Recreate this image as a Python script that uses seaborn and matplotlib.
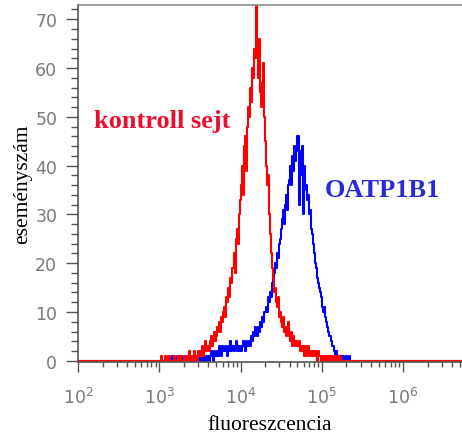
import numpy as np
import pandas as pd
import matplotlib.pyplot as plt
import seaborn as sns
from matplotlib.ticker import MultipleLocator, LogLocator, NullFormatter

# histogram channels: 0.0125 decade wide bins from 10^3 to 10^5.4 (8 per row = 0.1 decade)
bin_start = 3.0
bin_width = 0.0125

kontroll_counts = [
    0, 0, 1, 0, 0, 0, 1, 0,
    0, 1, 0, 0, 0, 0, 1, 0,
    0, 0, 1, 0, 1, 0, 0, 0,
    1, 0, 0, 1, 0, 2, 0, 1,
    0, 1, 2, 0, 1, 0, 2, 1,
    2, 1, 3, 1, 2, 4, 2, 3,
    3, 2, 4, 5, 3, 4, 6, 4,
    5, 7, 6, 8, 6, 9, 8, 10,
    11, 9, 13, 12, 15, 13, 17, 16,
    19, 22, 18, 25, 27, 24, 30, 33,
    36, 40, 34, 44, 46, 39, 48, 52,
    50, 56, 53, 60, 58, 64, 62, 74,
    63, 58, 66, 55, 52, 57, 61, 50,
    45, 40, 36, 38, 30, 26, 22, 19,
    17, 14, 15, 12, 11, 13, 9, 10,
    8, 7, 9, 6, 7, 5, 6, 8,
    5, 4, 6, 3, 5, 4, 3, 4,
    3, 4, 2, 3, 2, 3, 1, 3,
    2, 1, 3, 2, 1, 2, 1, 2,
    1, 2, 1, 0, 2, 1, 1, 0,
    1, 0, 1, 1, 0, 1, 0, 1,
    0, 1, 0, 0, 1, 0, 0, 1,
    0, 0, 1, 0, 0, 0, 0, 0,
    0, 0, 0, 0, 0, 0, 0, 0,
]

oatp_counts = [
    0, 0, 0, 0, 0, 0, 0, 0,
    0, 0, 0, 0, 1, 0, 0, 0,
    0, 1, 0, 0, 0, 1, 0, 0,
    0, 0, 1, 0, 0, 0, 1, 0,
    0, 1, 0, 0, 1, 0, 0, 1,
    0, 1, 0, 1, 0, 0, 1, 0,
    1, 0, 1, 2, 1, 0, 2, 1,
    1, 2, 1, 3, 2, 1, 3, 2,
    2, 3, 2, 1, 3, 2, 4, 2,
    3, 2, 3, 4, 2, 3, 2, 3,
    2, 3, 4, 3, 2, 4, 3, 3,
    4, 3, 5, 4, 6, 5, 7, 6,
    5, 7, 6, 8, 7, 9, 8, 10,
    10, 11, 10, 13, 12, 14, 13, 16,
    17, 18, 20, 19, 22, 21, 24, 25,
    27, 29, 31, 28, 32, 34, 31, 36,
    37, 40, 36, 42, 39, 44, 41, 43,
    46, 32, 43, 38, 44, 30, 40, 35,
    36, 33, 34, 30, 31, 27, 26, 24,
    22, 20, 19, 17, 16, 15, 14, 13,
    11, 10, 11, 9, 8, 7, 6, 5,
    5, 4, 3, 3, 2, 1, 2, 1,
    1, 0, 1, 1, 0, 1, 0, 0,
    1, 0, 0, 1, 0, 0, 0, 0,
]

labels = {"kontroll": "kontroll sejt", "oatp": "OATP1B1"}
x_min, x_max = 1e2, 5.3e6
y_max = 72.9

n = len(kontroll_counts)
centers = 10 ** (bin_start + bin_width * (np.arange(n) + 0.5))
xs = np.concatenate([[x_min], centers, [x_max]])

df = pd.concat([
    pd.DataFrame({"fluor": xs, "count": [0] + oatp_counts + [0], "minta": "oatp"}),
    pd.DataFrame({"fluor": xs, "count": [0] + kontroll_counts + [0], "minta": "kontroll"}),
])

sns.set_style("ticks")
plt.rcParams["font.family"] = ["DejaVu Sans"]
plt.rcParams["mathtext.default"] = "regular"

fig = plt.figure(figsize=(4.62, 4.35), dpi=100)
ax = fig.add_axes([0.169, 0.166, 0.831, 0.820])

sns.lineplot(data=df, x="fluor", y="count", hue="minta",
             hue_order=["oatp", "kontroll"],
             palette={"oatp": "#0000ff", "kontroll": "#ff0000"},
             drawstyle="steps-mid", linewidth=1.5, errorbar=None,
             legend=False, ax=ax)

ax.set_xscale("log")
ax.set_xlim(x_min, x_max)
ax.set_ylim(-0.2, y_max)

ax.yaxis.set_major_locator(MultipleLocator(10))
ax.yaxis.set_minor_locator(MultipleLocator(2))
ax.xaxis.set_major_locator(LogLocator(base=10))
ax.xaxis.set_minor_locator(LogLocator(base=10, subs=np.arange(2, 10)))
ax.xaxis.set_minor_formatter(NullFormatter())

gray = "#7a7a7a"
ax.tick_params(axis="both", which="major", direction="out",
               width=1, color="#555555", labelcolor=gray, labelsize=12.5)
ax.tick_params(axis="both", which="minor", direction="out", width=1, color="#555555")
ax.tick_params(axis="y", which="major", length=9, pad=6)
ax.tick_params(axis="y", which="minor", length=5)
ax.tick_params(axis="x", which="major", length=7, pad=11)
ax.tick_params(axis="x", which="minor", length=3.5)

for side in ["left", "bottom", "top"]:
    ax.spines[side].set_color("#555555")
    ax.spines[side].set_linewidth(1.2)
ax.spines["top"].set_visible(True)
ax.spines["top"].set_color("#8a8a8a")
ax.spines["right"].set_visible(False)

serif = ["Liberation Serif", "DejaVu Serif"]
ax.set_xlabel("fluoreszcencia", family=serif, fontsize=15.5, color="black", labelpad=6)
ax.set_ylabel("eseményszám", family=serif, fontsize=15.5, color="black", labelpad=2)

ax.text(0.042, 0.658, labels["kontroll"], transform=ax.transAxes, family=serif,
        fontsize=19, fontweight="bold", color="#e8102e", va="baseline", ha="left")
ax.text(0.643, 0.465, labels["oatp"], transform=ax.transAxes, family=serif,
        fontsize=19, fontweight="bold", color="#2a2ad8", va="baseline", ha="left")

fig.savefig("out.png", dpi=100)
